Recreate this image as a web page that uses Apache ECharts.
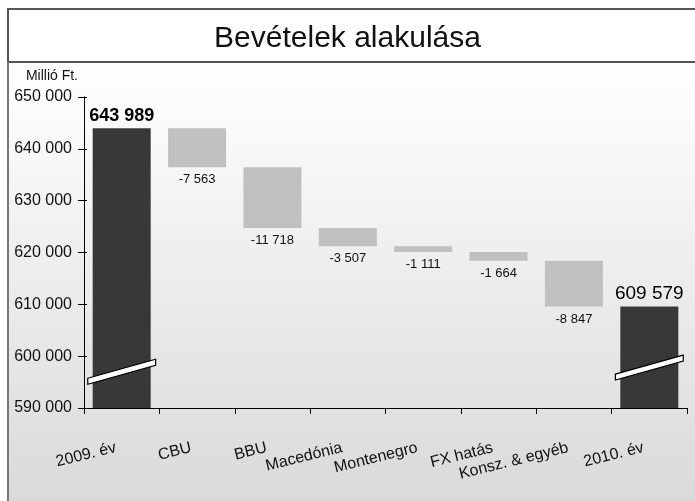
<!DOCTYPE html>
<html>
<head>
<meta charset="utf-8">
<script src="https://cdn.jsdelivr.net/npm/echarts@6/dist/echarts.min.js"></script>
<style>
  html, body { margin: 0; padding: 0; background: #fff; }
  #chart { width: 695px; height: 501px; }
</style>
</head>
<body>
<div id="chart"></div>
<script>
// adatok
var categories = ["2009. év", "CBU", "BBU", "Macedónia", "Montenegro", "FX hatás", "Konsz. & egyéb", "2010. év"];
var startValue = 643989;
var endValue = 609579;
var changes = [-7563, -11718, -3507, -1111, -1664, -8847];
var yTicks = [590000, 600000, 610000, 620000, 630000, 640000, 650000];
var breakAt = [597000, 597800]; // tengelytörés jelölése a két oszlopon

// vízesés oszlopok összerakása
var baseData = [0];
var deltaData = ["-"];
var totalData = [startValue];
var running = startValue;
changes.forEach(function (c) {
  running += c;
  baseData.push(Math.min(running, running - c));
  deltaData.push(Math.abs(c));
  totalData.push("-");
});
baseData.push(0);
deltaData.push("-");
totalData.push(endValue);

function fmt(v) {
  var s = String(Math.abs(v)).replace(/\B(?=(\d{3})+(?!\d))/g, " ");
  return (v < 0 ? "-" : "") + s;
}

var font = "Liberation Sans, Arial, sans-serif";
var myChart = echarts.init(document.getElementById("chart"));

myChart.setOption({
  animation: false,
  textStyle: { fontFamily: font },
  title: {
    text: "Bevételek alakulása",
    left: "center",
    top: 19,
    textStyle: { fontSize: 30, fontWeight: "normal", color: "#111", fontFamily: font }
  },
  graphic: [
    {
      type: "rect",
      z: -10,
      shape: { x: 8, y: 62, width: 700, height: 460 },
      style: {
        fill: new echarts.graphic.LinearGradient(0, 0, 0, 1, [
          { offset: 0, color: "#ffffff" },
          { offset: 1, color: "#d8d8d8" }
        ])
      }
    },
    {
      type: "rect",
      z: 100,
      shape: { x: 8, y: 9, width: 700, height: 53 },
      style: { fill: "none", stroke: "#555", lineWidth: 2 }
    },
    {
      type: "line",
      z: 100,
      shape: { x1: 8, y1: 62, x2: 8, y2: 520 },
      style: { stroke: "#777", lineWidth: 2 }
    }
  ],
  grid: { left: 84, right: 8, top: 97, bottom: 93 },
  xAxis: {
    type: "category",
    data: categories,
    axisLine: { lineStyle: { color: "#000", width: 1 } },
    axisTick: { show: true, length: 6, lineStyle: { color: "#000" } },
    axisLabel: {
      interval: 0,
      rotate: 14,
      margin: 38,
      padding: [0, 6, 0, 0],
      fontSize: 16,
      color: "#111",
      fontFamily: font
    }
  },
  yAxis: [
    {
      type: "value",
      min: 590000,
      max: 650000,
      interval: 10000,
      name: "Millió Ft.",
      nameLocation: "end",
      nameGap: 14,
      nameTextStyle: { align: "right", fontSize: 14, color: "#111", padding: [0, 6, 0, 0], fontFamily: font },
      axisLine: { show: true, lineStyle: { color: "#000" } },
      axisTick: { show: true, length: 6, lineStyle: { color: "#000" } },
      axisLabel: {
        fontSize: 16,
        color: "#111",
        margin: 12,
        fontFamily: font,
        formatter: function (v) { return yTicks.indexOf(v) >= 0 ? fmt(v) : ""; }
      },
      splitLine: { show: false }
    },
    {
      type: "value",
      min: 590000,
      max: 650000,
      interval: 10000,
      position: "left",
      axisLine: { show: false },
      axisTick: { show: true, inside: true, length: 3, lineStyle: { color: "#000" } },
      axisLabel: { show: false },
      splitLine: { show: false }
    }
  ],
  series: [
    {
      name: "alap",
      type: "bar",
      stack: "w",
      barWidth: 58,
      itemStyle: { color: "transparent" },
      data: baseData
    },
    {
      name: "változás",
      type: "bar",
      stack: "w",
      barWidth: 58,
      itemStyle: { color: "#c0c0c0" },
      label: {
        show: true,
        position: "bottom",
        distance: 6,
        fontSize: 13,
        color: "#111",
        fontFamily: "Liberation Sans, Arial, sans-serif",
        formatter: function (p) { return fmt(changes[p.dataIndex - 1]); }
      },
      data: deltaData
    },
    {
      name: "összesen",
      type: "bar",
      stack: "w",
      barWidth: 58,
      itemStyle: { color: "#383838" },
      label: {
        show: true,
        position: "top",
        distance: 3,
        fontSize: 18,
        color: "#000",
        fontFamily: font,
        formatter: function (p) { return fmt(p.value); },
        rich: {}
      },
      data: totalData.map(function (v, i) {
        if (v === "-") return v;
        return { value: v, label: { fontWeight: i === 0 ? "bold" : "normal", fontSize: i === 0 ? 18 : 19 } };
      })
    },
    {
      name: "törés",
      type: "custom",
      z: 10,
      renderItem: function (params, api) {
        var c = api.coord([api.value(0), api.value(1)]);
        var bw = api.size([1, 0])[0];
        var x1 = c[0] - bw * 0.45, x2 = c[0] + bw * 0.45;
        var k = -0.28, h = 6;
        var y1 = c[1] - k * (c[0] - x1), y2 = c[1] + k * (x2 - c[0]);
        return {
          type: "polygon",
          shape: { points: [[x1, y1 - h / 2], [x2, y2 - h / 2], [x2, y2 + h / 2], [x1, y1 + h / 2]] },
          style: { fill: "#fff", stroke: "#000", lineWidth: 1.2 }
        };
      },
      data: [[0, breakAt[0]], [categories.length - 1, breakAt[1]]]
    }
  ]
});

window.addEventListener("resize", function () {
  myChart.resize();
});
</script>
</body>
</html>
